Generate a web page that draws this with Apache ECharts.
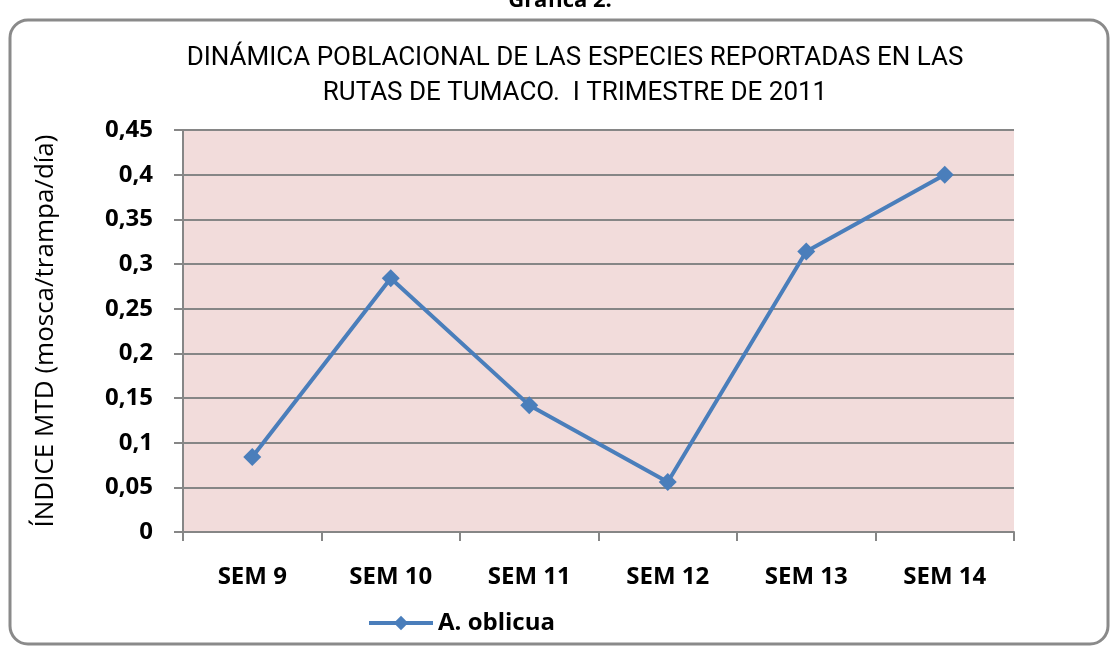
<!DOCTYPE html>
<html>
<head>
<meta charset="utf-8">
<script src="https://cdn.jsdelivr.net/npm/echarts@6/dist/echarts.min.js"></script>
<style>
  html, body { margin: 0; padding: 0; background: #fff; }
  #chart { width: 1120px; height: 648px; }
</style>
</head>
<body>
<div id="chart"></div>
<script>
// datos
const semanas = ['SEM 9', 'SEM 10', 'SEM 11', 'SEM 12', 'SEM 13', 'SEM 14'];
const oblicua = [0.084, 0.284, 0.142, 0.056, 0.314, 0.400];
const serieNombre = 'A. oblicua';

const chart = echarts.init(document.getElementById('chart'));

const fmt = v => String(Math.round(v * 100) / 100).replace('.', ',');

chart.setOption({
  animation: false,
  backgroundColor: '#fff',
  title: {
    text: 'DINÁMICA POBLACIONAL DE LAS ESPECIES REPORTADAS EN LAS\nRUTAS DE TUMACO.  I TRIMESTRE DE 2011',
    left: 570,
    textAlign: 'center',
    top: 36,
    textStyle: {
      fontFamily: 'Roboto',
      fontWeight: 'normal',
      fontSize: 26,
      lineHeight: 35,
      color: '#000'
    }
  },
  graphic: [
    {
      type: 'rect',
      shape: { x: 10, y: 20, width: 1098, height: 624, r: 18 },
      style: { fill: 'none', stroke: '#8a8a8a', lineWidth: 3 },
      z: -1
    },
    {
      type: 'text',
      left: 'center',
      top: -10,
      style: {
        text: 'Gráfica 2.',
        fontFamily: 'Open Sans',
        fontWeight: 'bold',
        fontSize: 22,
        fill: '#000'
      }
    }
  ],
  grid: {
    left: 183,
    right: 106,
    top: 130,
    bottom: 116,
    show: true,
    backgroundColor: '#f2dcdb',
    borderWidth: 0
  },
  legend: {
    top: 606,
    left: 362,
    itemWidth: 64,
    itemHeight: 18,
    itemGap: 5,
    lineStyle: { width: 4 },
    textStyle: {
      fontFamily: 'Open Sans',
      fontWeight: 'bold',
      fontSize: 24,
      color: '#000'
    },
    data: [serieNombre]
  },
  xAxis: {
    type: 'category',
    data: semanas,
    boundaryGap: true,
    axisLine: { lineStyle: { color: '#868686', width: 2 } },
    axisTick: { show: true, length: 9, lineStyle: { color: '#868686', width: 2 } },
    axisLabel: {
      margin: 33,
      fontFamily: 'Open Sans',
      fontWeight: 'bold',
      fontSize: 24,
      color: '#000'
    }
  },
  yAxis: {
    type: 'value',
    min: 0,
    max: 0.45,
    interval: 0.05,
    name: 'ÍNDICE MTD (mosca/trampa/día)',
    nameLocation: 'middle',
    nameGap: 124,
    nameTextStyle: {
      fontFamily: 'Open Sans',
      fontSize: 26,
      color: '#000'
    },
    axisLine: { show: true, lineStyle: { color: '#868686', width: 2 } },
    axisTick: { show: true, length: 9, lineStyle: { color: '#868686', width: 2 } },
    splitLine: { lineStyle: { color: '#868686', width: 2 } },
    axisLabel: {
      margin: 30,
      formatter: fmt,
      fontFamily: 'Open Sans',
      fontWeight: 'bold',
      fontSize: 24,
      color: '#000'
    }
  },
  series: [
    {
      name: serieNombre,
      type: 'line',
      data: oblicua,
      symbol: 'diamond',
      symbolSize: 18,
      lineStyle: { color: '#4a7ebb', width: 4 },
      itemStyle: { color: '#4a7ebb' }
    }
  ]
});
</script>
</body>
</html>
